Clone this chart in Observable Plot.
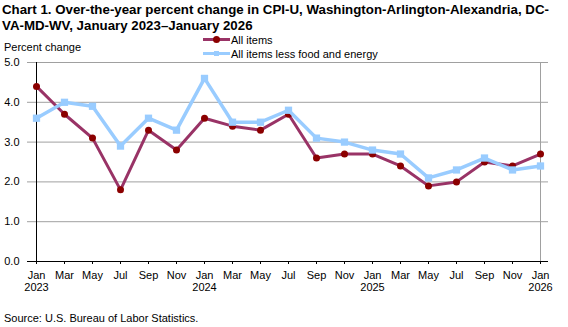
<!DOCTYPE html>
<html>
<head>
<meta charset="utf-8">
<script src="https://cdn.jsdelivr.net/npm/d3@7"></script>
<script src="https://cdn.jsdelivr.net/npm/@observablehq/plot@0.6"></script>
<style>
  html, body { margin: 0; padding: 0; background: #fff; }
  #wrap { position: relative; width: 568px; height: 327px; font-family: "Liberation Sans", Arial, sans-serif; color: #000; overflow: hidden; }
  #title { font-weight: bold; font-size: 13.3px; line-height: 15.5px; padding: 2px 0 0 2px; height: 34px; box-sizing: border-box; white-space: nowrap; }
  #ylab { position: absolute; left: 4px; top: 41px; font-size: 11px; }
  .leg { position: absolute; left: 203px; font-size: 11px; display: flex; align-items: center; height: 13px; }
  .sw { position: relative; width: 27px; height: 13px; margin-right: 1px; }
  .sw .ln { position: absolute; left: 0; right: 0; top: 5px; height: 3px; }
  .sw .mk { position: absolute; }
  #caption { font-size: 11px; line-height: 13px; padding: 6px 0 0 4px; }
  svg { display: block; }
</style>
</head>
<body>
<div id="wrap">
  <div id="title">Chart 1. Over-the-year percent change in CPI-U, Washington-Arlington-Alexandria, DC-<br>VA-MD-WV, January 2023–January 2026</div>
  <div id="chart"></div>
  <div id="caption">Source: U.S. Bureau of Labor Statistics.</div>
  <div id="ylab">Percent change</div>
  <div class="leg" style="top:33px"><div class="sw"><div class="ln" style="background:#993366"></div><div class="mk" style="left:10px;top:3px;width:7px;height:7px;border-radius:50%;background:#8B0000"></div></div><span>All items</span></div>
  <div class="leg" style="top:47px"><div class="sw"><div class="ln" style="background:#99CCFF"></div><div class="mk" style="left:11px;top:4px;width:5px;height:5px;background:#99CCFF"></div></div><span>All items less food and energy</span></div>
</div>
<script>
const months = ["2023-01","2023-03","2023-05","2023-07","2023-09","2023-11",
                "2024-01","2024-03","2024-05","2024-07","2024-09","2024-11",
                "2025-01","2025-03","2025-05","2025-07","2025-09","2025-11",
                "2026-01"];
const allItems = [4.4, 3.7, 3.1, 1.8, 3.3, 2.8, 3.6, 3.4, 3.3, 3.7, 2.6, 2.7, 2.7, 2.4, 1.9, 2.0, 2.5, 2.4, 2.7];
const coreItems = [3.6, 4.0, 3.9, 2.9, 3.6, 3.3, 4.6, 3.5, 3.5, 3.8, 3.1, 3.0, 2.8, 2.7, 2.1, 2.3, 2.6, 2.3, 2.4];
const monthNames = ["Jan","Feb","Mar","Apr","May","Jun","Jul","Aug","Sep","Oct","Nov","Dec"];
const yTicks = [0, 1, 2, 3, 4, 5];

const allData = months.map((m, i) => ({month: m, value: allItems[i]}));
const coreData = months.map((m, i) => ({month: m, value: coreItems[i]}));

const fmtMonth = m => {
  const [yr, mo] = m.split("-");
  const name = monthNames[+mo - 1];
  return mo === "01" ? name + "\n" + yr : name;
};

const chart = Plot.plot({
  width: 568,
  height: 272,
  marginTop: 28,
  marginBottom: 45,
  marginLeft: 27,
  marginRight: 20,
  style: {fontFamily: "'Liberation Sans', Arial, sans-serif", fontSize: "11px", color: "#000", background: "transparent"},
  x: {type: "point", domain: months, padding: 0},
  y: {domain: [0, 5]},
  marks: [
    Plot.ruleY(yTicks.slice(1), {stroke: "#a0a0a0", strokeWidth: 1, strokeOpacity: 1}),
    Plot.ruleX([months[months.length - 1]], {stroke: "#a0a0a0", strokeOpacity: 1}),
    Plot.ruleX([months[0]], {stroke: "#000", strokeOpacity: 1}),
    Plot.ruleY([0], {stroke: "#000", strokeOpacity: 1}),
    Plot.axisY({ticks: yTicks, tickFormat: d3.format(".1f"), tickSize: 0, tickPadding: 8, label: null, fontSize: 11}),
    Plot.axisX({tickFormat: fmtMonth, tickSize: 3, tickPadding: 6, label: null, lineHeight: 1.1, fontSize: 11, strokeOpacity: 1}),
    Plot.line(allData, {x: "month", y: "value", stroke: "#993366", strokeWidth: 3}),
    Plot.dot(allData, {x: "month", y: "value", r: 3.5, fill: "#8B0000", stroke: null}),
    Plot.line(coreData, {x: "month", y: "value", stroke: "#99CCFF", strokeWidth: 3.5}),
    Plot.dot(coreData, {x: "month", y: "value", symbol: "square", r: 4.1, fill: "#99CCFF", stroke: null})
  ]
});
document.getElementById("chart").appendChild(chart);
</script>
</body>
</html>
